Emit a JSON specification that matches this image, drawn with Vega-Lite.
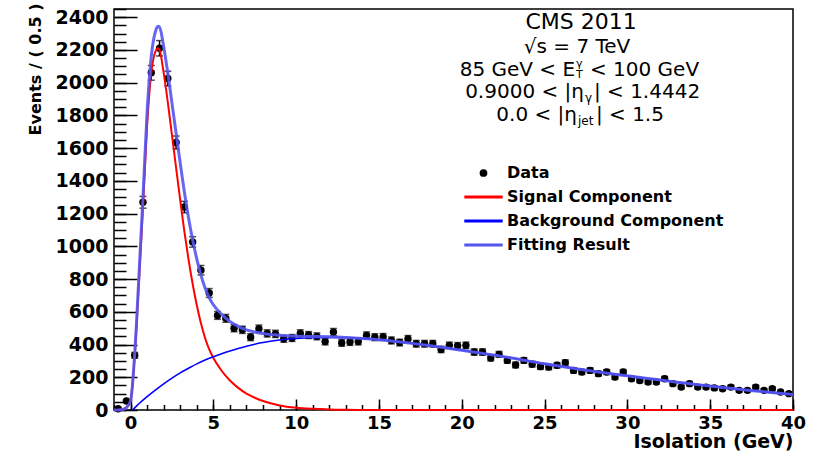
{
  "$schema": "https://vega.github.io/schema/vega-lite/v6.json",
  "width": 679,
  "height": 401,
  "autosize": "none",
  "padding": {"left": 114, "top": 9, "right": 26, "bottom": 42},
  "background": "white",
  "config": {
    "view": {"stroke": "black", "strokeWidth": 1.5},
    "font": "DejaVu Sans",
    "axis": {
      "labelFont": "DejaVu Sans", "labelFontWeight": "bold", "labelColor": "#000",
      "titleFont": "DejaVu Sans", "titleFontWeight": "bold", "titleColor": "#000",
      "tickColor": "#000", "tickWidth": 1.5, "domain": false, "grid": false
    },
    "text": {"font": "DejaVu Sans", "color": "#000", "baseline": "middle"}
  },
  "datasets": {
    "pts": [
      {"x": -0.75, "v": 8, "e": 3}, {"x": -0.25, "v": 55, "e": 7}, {"x": 0.25, "v": 334, "e": 18},
      {"x": 0.75, "v": 1269, "e": 36}, {"x": 1.25, "v": 2060, "e": 45}, {"x": 1.75, "v": 2210, "e": 47},
      {"x": 2.25, "v": 2025, "e": 45}, {"x": 2.75, "v": 1634, "e": 40}, {"x": 3.25, "v": 1240, "e": 35},
      {"x": 3.75, "v": 1027, "e": 32}, {"x": 4.25, "v": 854, "e": 29}, {"x": 4.75, "v": 715, "e": 27},
      {"x": 5.25, "v": 578, "e": 24}, {"x": 5.75, "v": 560, "e": 24}, {"x": 6.25, "v": 500, "e": 22},
      {"x": 6.75, "v": 490, "e": 22}, {"x": 7.25, "v": 445, "e": 21}, {"x": 7.75, "v": 497, "e": 22},
      {"x": 8.25, "v": 468, "e": 22}, {"x": 8.75, "v": 465, "e": 22}, {"x": 9.25, "v": 435, "e": 21},
      {"x": 9.75, "v": 440, "e": 21}, {"x": 10.25, "v": 468, "e": 22}, {"x": 10.75, "v": 458, "e": 21},
      {"x": 11.25, "v": 450, "e": 21}, {"x": 11.75, "v": 418, "e": 20}, {"x": 12.25, "v": 476, "e": 22},
      {"x": 12.75, "v": 410, "e": 20}, {"x": 13.25, "v": 415, "e": 20}, {"x": 13.75, "v": 418, "e": 20},
      {"x": 14.25, "v": 456, "e": 21}, {"x": 14.75, "v": 445, "e": 21}, {"x": 15.25, "v": 446, "e": 21},
      {"x": 15.75, "v": 425, "e": 21}, {"x": 16.25, "v": 412, "e": 20}, {"x": 16.75, "v": 434, "e": 21},
      {"x": 17.25, "v": 405, "e": 20}, {"x": 17.75, "v": 405, "e": 20}, {"x": 18.25, "v": 405, "e": 20},
      {"x": 18.75, "v": 370, "e": 19}, {"x": 19.25, "v": 395, "e": 20}, {"x": 19.75, "v": 392, "e": 20},
      {"x": 20.25, "v": 395, "e": 20}, {"x": 20.75, "v": 354, "e": 19}, {"x": 21.25, "v": 354, "e": 19},
      {"x": 21.75, "v": 318, "e": 18}, {"x": 22.25, "v": 340, "e": 18}, {"x": 22.75, "v": 303, "e": 17},
      {"x": 23.25, "v": 275, "e": 17}, {"x": 23.75, "v": 303, "e": 17}, {"x": 24.25, "v": 280, "e": 17},
      {"x": 24.75, "v": 265, "e": 16}, {"x": 25.25, "v": 262, "e": 16}, {"x": 25.75, "v": 273, "e": 17},
      {"x": 26.25, "v": 289, "e": 17}, {"x": 26.75, "v": 242, "e": 16}, {"x": 27.25, "v": 232, "e": 15},
      {"x": 27.75, "v": 242, "e": 16}, {"x": 28.25, "v": 222, "e": 15}, {"x": 28.75, "v": 232, "e": 15},
      {"x": 29.25, "v": 201, "e": 14}, {"x": 29.75, "v": 232, "e": 15}, {"x": 30.25, "v": 191, "e": 14},
      {"x": 30.75, "v": 180, "e": 13}, {"x": 31.25, "v": 171, "e": 13}, {"x": 31.75, "v": 171, "e": 13},
      {"x": 32.25, "v": 191, "e": 14}, {"x": 32.75, "v": 161, "e": 13}, {"x": 33.25, "v": 140, "e": 12},
      {"x": 33.75, "v": 161, "e": 13}, {"x": 34.25, "v": 140, "e": 12}, {"x": 34.75, "v": 140, "e": 12},
      {"x": 35.25, "v": 135, "e": 12}, {"x": 35.75, "v": 130, "e": 11}, {"x": 36.25, "v": 140, "e": 12},
      {"x": 36.75, "v": 120, "e": 11}, {"x": 37.25, "v": 120, "e": 11}, {"x": 37.75, "v": 140, "e": 12},
      {"x": 38.25, "v": 120, "e": 11}, {"x": 38.75, "v": 130, "e": 11}, {"x": 39.25, "v": 110, "e": 10},
      {"x": 39.75, "v": 100, "e": 10}
    ],
    "sig": [
      {"x": -1, "y": 0}, {"x": -0.75, "y": 0}, {"x": -0.5, "y": 3}, {"x": -0.25, "y": 15},
      {"x": 0, "y": 55}, {"x": 0.25, "y": 330}, {"x": 0.5, "y": 770}, {"x": 0.75, "y": 1240},
      {"x": 1.0, "y": 1740}, {"x": 1.25, "y": 2060}, {"x": 1.5, "y": 2190}, {"x": 1.66, "y": 2210},
      {"x": 1.75, "y": 2200}, {"x": 2.0, "y": 2060}, {"x": 2.25, "y": 1880}, {"x": 2.5, "y": 1680},
      {"x": 2.75, "y": 1480}, {"x": 3.0, "y": 1280}, {"x": 3.25, "y": 1090}, {"x": 3.5, "y": 920},
      {"x": 3.75, "y": 770}, {"x": 4.0, "y": 640}, {"x": 4.25, "y": 530}, {"x": 4.5, "y": 440},
      {"x": 4.75, "y": 370}, {"x": 5.0, "y": 318}, {"x": 5.5, "y": 240}, {"x": 6.0, "y": 180},
      {"x": 6.5, "y": 135}, {"x": 7.0, "y": 100}, {"x": 7.5, "y": 75}, {"x": 8.0, "y": 55},
      {"x": 9, "y": 28}, {"x": 10, "y": 14}, {"x": 11, "y": 7}, {"x": 12, "y": 3}, {"x": 13, "y": 1},
      {"x": 14, "y": 0}, {"x": 20, "y": 0}, {"x": 30, "y": 0}, {"x": 40, "y": 0}
    ],
    "bkg": [
      {"x": 0.1, "y": 0}, {"x": 0.25, "y": 13}, {"x": 0.5, "y": 38}, {"x": 1, "y": 82}, {"x": 1.5, "y": 122},
      {"x": 2, "y": 160}, {"x": 2.5, "y": 195}, {"x": 3, "y": 227}, {"x": 3.5, "y": 255}, {"x": 4, "y": 282},
      {"x": 4.5, "y": 305}, {"x": 5, "y": 325}, {"x": 5.5, "y": 344}, {"x": 6, "y": 361}, {"x": 6.5, "y": 376},
      {"x": 7, "y": 390}, {"x": 7.5, "y": 402}, {"x": 8, "y": 412}, {"x": 9, "y": 428}, {"x": 10, "y": 437},
      {"x": 11, "y": 442}, {"x": 12, "y": 444}, {"x": 13, "y": 442}, {"x": 14, "y": 437}, {"x": 15, "y": 429},
      {"x": 16, "y": 419}, {"x": 17, "y": 407}, {"x": 18, "y": 394}, {"x": 19, "y": 380}, {"x": 20, "y": 365},
      {"x": 21, "y": 350}, {"x": 22, "y": 334}, {"x": 23, "y": 318}, {"x": 24, "y": 300}, {"x": 25, "y": 282},
      {"x": 26, "y": 266}, {"x": 27, "y": 250}, {"x": 28, "y": 236}, {"x": 29, "y": 222}, {"x": 30, "y": 209},
      {"x": 31, "y": 196}, {"x": 32, "y": 183}, {"x": 33, "y": 170}, {"x": 34, "y": 158}, {"x": 35, "y": 146},
      {"x": 36, "y": 135}, {"x": 37, "y": 124}, {"x": 38, "y": 114}, {"x": 39, "y": 104}, {"x": 40, "y": 95}
    ],
    "tot": [
      {"x": -1, "y": 0}, {"x": -0.75, "y": 0}, {"x": -0.5, "y": 3}, {"x": -0.25, "y": 15},
      {"x": 0, "y": 55}, {"x": 0.25, "y": 343}, {"x": 0.5, "y": 808}, {"x": 0.75, "y": 1300},
      {"x": 1.0, "y": 1822}, {"x": 1.25, "y": 2160}, {"x": 1.5, "y": 2312}, {"x": 1.66, "y": 2344},
      {"x": 1.75, "y": 2340}, {"x": 2.0, "y": 2220}, {"x": 2.25, "y": 2058}, {"x": 2.5, "y": 1875},
      {"x": 2.75, "y": 1691}, {"x": 3.0, "y": 1507}, {"x": 3.25, "y": 1331}, {"x": 3.5, "y": 1175},
      {"x": 3.75, "y": 1039}, {"x": 4.0, "y": 922}, {"x": 4.25, "y": 824}, {"x": 4.5, "y": 745},
      {"x": 4.75, "y": 685}, {"x": 5.0, "y": 643}, {"x": 5.5, "y": 584}, {"x": 6.0, "y": 541},
      {"x": 6.5, "y": 511}, {"x": 7.0, "y": 490}, {"x": 7.5, "y": 477}, {"x": 8.0, "y": 467},
      {"x": 9, "y": 456}, {"x": 10, "y": 451}, {"x": 11, "y": 449}, {"x": 12, "y": 447}, {"x": 13, "y": 443},
      {"x": 14, "y": 437}, {"x": 15, "y": 429}, {"x": 16, "y": 419}, {"x": 17, "y": 407}, {"x": 18, "y": 394},
      {"x": 19, "y": 380}, {"x": 20, "y": 365}, {"x": 21, "y": 350}, {"x": 22, "y": 334}, {"x": 23, "y": 318},
      {"x": 24, "y": 300}, {"x": 25, "y": 282}, {"x": 26, "y": 266}, {"x": 27, "y": 250}, {"x": 28, "y": 236},
      {"x": 29, "y": 222}, {"x": 30, "y": 209}, {"x": 31, "y": 196}, {"x": 32, "y": 183}, {"x": 33, "y": 170},
      {"x": 34, "y": 158}, {"x": 35, "y": 146}, {"x": 36, "y": 135}, {"x": 37, "y": 124}, {"x": 38, "y": 114},
      {"x": 39, "y": 104}, {"x": 40, "y": 95}
    ]
  },
  "layer": [
    {
      "data": {"name": "pts"},
      "mark": {"type": "point", "filled": true, "color": "black", "size": 55, "opacity": 1},
      "encoding": {
        "x": {"field": "x", "type": "quantitative",
          "scale": {"domain": [-1, 40], "nice": false, "zero": false},
          "axis": {"orient": "bottom", "values": [0, 5, 10, 15, 20, 25, 30, 35, 40], "ticks": false,
            "labelFontSize": 18, "labelPadding": 4, "labelFlush": false, "labelOverlap": false, "format": "d",
            "title": "Isolation (GeV)", "titleFontSize": 19, "titleAnchor": "end",
            "titleBaseline": "alphabetic", "titleY": 37}},
        "y": {"field": "v", "type": "quantitative",
          "scale": {"domain": [0, 2450], "nice": false, "zero": true},
          "axis": {"orient": "left", "values": [0, 200, 400, 600, 800, 1000, 1200, 1400, 1600, 1800, 2000, 2200, 2400],
            "ticks": false, "labelFontSize": 19, "labelPadding": 6, "labelFlush": false, "labelOverlap": false, "format": "d",
            "title": "Events / ( 0.5 )", "titleFontSize": 16, "titleAnchor": "end",
            "titleX": -71, "titleY": -6, "titleBaseline": "bottom"}}
      }
    },
    {
      "data": {"name": "pts"},
      "mark": {"type": "errorbar", "ticks": true, "size": 7, "thickness": 1.5, "color": "black"},
      "encoding": {
        "x": {"field": "x", "type": "quantitative", "scale": {"domain": [-1, 40], "nice": false, "zero": false}, "axis": null},
        "y": {"field": "v", "type": "quantitative", "scale": {"domain": [0, 2450], "nice": false}, "axis": null},
        "yError": {"field": "e"}
      }
    },
    {
      "data": {"name": "sig"},
      "mark": {"type": "line", "strokeWidth": 2, "interpolate": "monotone"},
      "encoding": {
        "x": {"field": "x", "type": "quantitative", "scale": {"domain": [-1, 40], "nice": false, "zero": false},
          "axis": {"orient": "bottom", "values": [0, 5, 10, 15, 20, 25, 30, 35, 40], "labels": false, "tickSize": -11, "title": null}},
        "y": {"field": "y", "type": "quantitative", "scale": {"domain": [0, 2450], "nice": false},
          "axis": {"orient": "left", "values": [0, 200, 400, 600, 800, 1000, 1200, 1400, 1600, 1800, 2000, 2200, 2400], "labels": false, "tickSize": -23, "title": null}},
        "color": {"datum": "Signal Component", "type": "nominal",
          "scale": {"domain": ["Data", "Signal Component", "Background Component", "Fitting Result"],
                    "range": ["#000000", "#ff0000", "#0000ff", "#5555ee"]},
          "legend": {
            "orient": "none", "legendX": 361.5, "legendY": 156, "title": null, "padding": 0,
            "symbolType": "M-1.6,0H1.6", "symbolSize": 576, "symbolStrokeWidth": 3,
            "labelFont": "DejaVu Sans", "labelFontWeight": "bold", "labelFontSize": 16, "labelColor": "#000",
            "labelOffset": 15.5, "labelLimit": 0, "rowPadding": 8,
            "encode": {"symbols": {"update": {
              "shape": {"signal": "datum.value === 'Data' ? 'circle' : 'M-1.6,0H1.6'"},
              "size": {"signal": "datum.value === 'Data' ? 60 : 576"},
              "fill": {"signal": "datum.value === 'Data' ? '#000000' : 'transparent'"},
              "strokeWidth": {"signal": "datum.value === 'Data' ? 0 : 3"}
            }}}
          }}
      }
    },
    {
      "data": {"name": "bkg"},
      "mark": {"type": "line", "strokeWidth": 1.6, "interpolate": "monotone"},
      "encoding": {
        "x": {"field": "x", "type": "quantitative", "scale": {"domain": [-1, 40], "nice": false, "zero": false},
          "axis": {"orient": "bottom", "values": [-1, 0, 1, 2, 3, 4, 5, 6, 7, 8, 9, 10, 11, 12, 13, 14, 15, 16, 17, 18, 19, 20, 21, 22, 23, 24, 25, 26, 27, 28, 29, 30, 31, 32, 33, 34, 35, 36, 37, 38, 39, 40], "labels": false, "tickSize": -5.5, "title": null}},
        "y": {"field": "y", "type": "quantitative", "scale": {"domain": [0, 2450], "nice": false},
          "axis": {"orient": "left", "values": [0, 50, 100, 150, 200, 250, 300, 350, 400, 450, 500, 550, 600, 650, 700, 750, 800, 850, 900, 950, 1000, 1050, 1100, 1150, 1200, 1250, 1300, 1350, 1400, 1450, 1500, 1550, 1600, 1650, 1700, 1750, 1800, 1850, 1900, 1950, 2000, 2050, 2100, 2150, 2200, 2250, 2300, 2350, 2400, 2450], "labels": false, "tickSize": -12, "title": null}},
        "color": {"datum": "Background Component", "type": "nominal"}
      }
    },
    {
      "data": {"name": "tot"},
      "mark": {"type": "line", "strokeWidth": 3, "interpolate": "monotone", "opacity": 0.9},
      "encoding": {
        "x": {"field": "x", "type": "quantitative", "scale": {"domain": [-1, 40], "nice": false, "zero": false}, "axis": null},
        "y": {"field": "y", "type": "quantitative", "scale": {"domain": [0, 2450], "nice": false}, "axis": null},
        "color": {"datum": "Fitting Result", "type": "nominal"}
      }
    },
    {"data": {"values": [{}]}, "mark": {"type": "text", "text": "CMS 2011", "fontSize": 22, "align": "center"},
     "encoding": {"x": {"datum": 27.2, "type": "quantitative", "axis": null}, "y": {"datum": 2372, "type": "quantitative", "axis": null}}},
    {"data": {"values": [{}]}, "mark": {"type": "text", "text": "√s = 7 TeV", "fontSize": 20, "align": "center"},
     "encoding": {"x": {"datum": 26.96, "type": "quantitative", "axis": null}, "y": {"datum": 2220, "type": "quantitative", "axis": null}}},
    {"data": {"values": [{}]}, "mark": {"type": "text", "text": "85 GeV < E", "fontSize": 20, "align": "right"},
     "encoding": {"x": {"datum": 26.84, "type": "quantitative", "axis": null}, "y": {"datum": 2075, "type": "quantitative", "axis": null}}},
    {"data": {"values": [{}]}, "mark": {"type": "text", "text": "γ", "fontSize": 11, "align": "left"},
     "encoding": {"x": {"datum": 26.9, "type": "quantitative", "axis": null}, "y": {"datum": 2114, "type": "quantitative", "axis": null}}},
    {"data": {"values": [{}]}, "mark": {"type": "text", "text": "T", "fontSize": 11, "align": "left"},
     "encoding": {"x": {"datum": 26.9, "type": "quantitative", "axis": null}, "y": {"datum": 2044, "type": "quantitative", "axis": null}}},
    {"data": {"values": [{}]}, "mark": {"type": "text", "text": "< 100 GeV", "fontSize": 20, "align": "left"},
     "encoding": {"x": {"datum": 27.74, "type": "quantitative", "axis": null}, "y": {"datum": 2075, "type": "quantitative", "axis": null}}},
    {"data": {"values": [{}]}, "mark": {"type": "text", "text": "0.9000 < |η", "fontSize": 20, "align": "right"},
     "encoding": {"x": {"datum": 27.38, "type": "quantitative", "axis": null}, "y": {"datum": 1945, "type": "quantitative", "axis": null}}},
    {"data": {"values": [{}]}, "mark": {"type": "text", "text": "γ", "fontSize": 12, "align": "left"},
     "encoding": {"x": {"datum": 27.44, "type": "quantitative", "axis": null}, "y": {"datum": 1904, "type": "quantitative", "axis": null}}},
    {"data": {"values": [{}]}, "mark": {"type": "text", "text": "| < 1.4442", "fontSize": 20, "align": "left"},
     "encoding": {"x": {"datum": 27.98, "type": "quantitative", "axis": null}, "y": {"datum": 1945, "type": "quantitative", "axis": null}}},
    {"data": {"values": [{}]}, "mark": {"type": "text", "text": "0.0 < |η", "fontSize": 20, "align": "right"},
     "encoding": {"x": {"datum": 26.96, "type": "quantitative", "axis": null}, "y": {"datum": 1802, "type": "quantitative", "axis": null}}},
    {"data": {"values": [{}]}, "mark": {"type": "text", "text": "jet", "fontSize": 12, "align": "left"},
     "encoding": {"x": {"datum": 27.02, "type": "quantitative", "axis": null}, "y": {"datum": 1766, "type": "quantitative", "axis": null}}},
    {"data": {"values": [{}]}, "mark": {"type": "text", "text": "| < 1.5", "fontSize": 20, "align": "left"},
     "encoding": {"x": {"datum": 28.1, "type": "quantitative", "axis": null}, "y": {"datum": 1802, "type": "quantitative", "axis": null}}}
  ],
  "resolve": {"axis": {"x": "independent", "y": "independent"}}
}
